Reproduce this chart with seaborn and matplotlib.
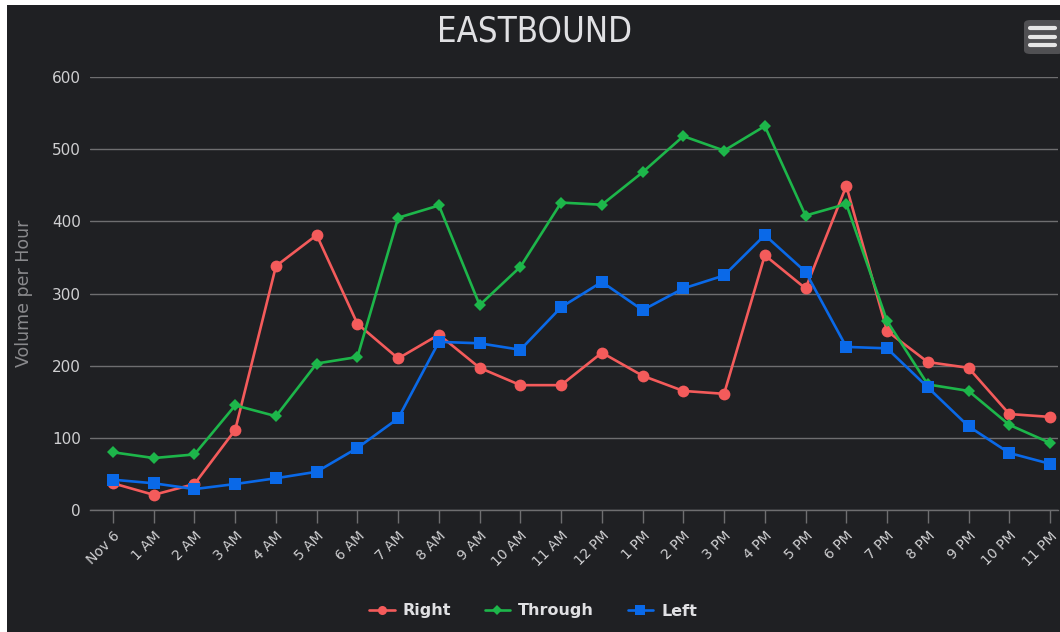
import numpy as np
import pandas as pd
import matplotlib
matplotlib.use("Agg")
import matplotlib.pyplot as plt
import seaborn as sns
from matplotlib import font_manager
from matplotlib.patches import Rectangle, FancyBboxPatch
from matplotlib.lines import Line2D

# data
hours = ["Nov 6", "1 AM", "2 AM", "3 AM", "4 AM", "5 AM", "6 AM", "7 AM", "8 AM", "9 AM",
         "10 AM", "11 AM", "12 PM", "1 PM", "2 PM", "3 PM", "4 PM", "5 PM", "6 PM", "7 PM",
         "8 PM", "9 PM", "10 PM", "11 PM"]
right = [37, 21, 36, 111, 338, 381, 258, 210, 243, 197, 173, 173,
         218, 186, 165, 161, 353, 307, 449, 248, 205, 197, 133, 129]
through = [80, 72, 77, 145, 130, 203, 212, 405, 422, 284, 337, 426,
           423, 468, 518, 498, 532, 408, 424, 262, 174, 165, 118, 93]
left = [42, 37, 29, 36, 44, 53, 86, 127, 233, 231, 222, 281,
        316, 277, 307, 325, 381, 330, 226, 224, 170, 116, 79, 64]

series_names = ["Right", "Through", "Left"]
series_colors = ["#f45b5b", "#1db64a", "#0a69e8"]
series_markers = ["o", "D", "s"]
marker_sizes = [8.5, 6.5, 8.5]
legend_sizes = [6.5, 5, 6.5]

BG = "#1f2023"
GRID = "#6e6e70"
TEXT = "#e0e0e3"

sns.set_theme(style="dark")
plt.rcParams["font.family"] = ["DejaVu Sans"]

W, H = 1060, 632
fig = plt.figure(figsize=(W / 100, H / 100), dpi=100, facecolor=BG)
# thin white border on left and top
fig.patches.append(Rectangle((0, 0), 7 / W, 1, transform=fig.transFigure,
                             facecolor="white", edgecolor="none", zorder=-5))
fig.patches.append(Rectangle((0, 1 - 5 / H), 1, 5 / H, transform=fig.transFigure,
                             facecolor="white", edgecolor="none", zorder=-5))

ax = fig.add_axes([90 / W, 1 - 510 / H, (1058 - 90) / W, (510 - 77) / H])
ax.set_facecolor(BG)

pos = np.arange(len(hours))
df = pd.DataFrame({"pos": pos, "Right": right, "Through": through, "Left": left})

for name, col, mk, ms in zip(series_names, series_colors, series_markers, marker_sizes):
    sns.lineplot(data=df, x="pos", y=name, ax=ax, color=col, marker=mk, markersize=ms,
                 markeredgewidth=0, linewidth=1.9, label=name, legend=False)

ax.set_ylim(0, 600)
ax.set_xlim(-(113 - 90) / 40.74, 23 + (1058 - 1050) / 40.74)
ax.set_yticks(range(0, 601, 100))
ax.set_xticks(pos)
ax.set_xticklabels(hours, rotation=45, ha="right", rotation_mode="anchor")
ax.grid(axis="y", color=GRID, linewidth=1.0)
ax.grid(axis="x", visible=False)
for side in ["top", "right", "left"]:
    ax.spines[side].set_visible(False)
ax.spines["bottom"].set_color(GRID)
ax.spines["bottom"].set_linewidth(1.0)
ax.tick_params(axis="x", colors="#cfcfd1", length=9.5, width=1, direction="out",
               labelsize=10, pad=4, bottom=True)
ax.tick_params(axis="x", color=GRID)
ax.tick_params(axis="y", colors="#cfcfd1", length=0, labelsize=11, pad=6.5)
ax.set_xlabel("")
ax.set_ylabel("Volume per Hour", color="#8a8a8d", fontsize=12.5)
ax.yaxis.set_label_coords((33 - 90) / 968, 0.5)

# condensed face for the title if one is installed
title_kw = {"family": "DejaVu Sans", "stretch": "condensed"}
try:
    font_manager.findfont("Liberation Sans Narrow", fallback_to_default=False)
    title_kw = {"family": "Liberation Sans Narrow"}
except Exception:
    pass
title = fig.text(535 / W, 1 - 32 / H, "EASTBOUND", ha="center", va="center", color=TEXT,
                 fontsize=22, **title_kw)
fig.canvas.draw()
tw = title.get_window_extent().width
title.set_fontsize(22 * 195 / tw)

handles = [Line2D([0], [0], color=c, marker=m, markersize=s, markeredgewidth=0, linewidth=1.9)
           for c, m, s in zip(series_colors, series_markers, legend_sizes)]
leg = fig.legend(handles, series_names, loc="center", bbox_to_anchor=(533 / W, 1 - 611 / H),
                 ncol=3, frameon=False, handlelength=1.6, handletextpad=0.5,
                 columnspacing=2.1, prop={"weight": "bold", "size": 11.5})
for t in leg.get_texts():
    t.set_color(TEXT)

# menu button, top right
fig.patches.append(FancyBboxPatch((1024 / W, 1 - 54 / H), 40 / W, 34 / H,
                                  boxstyle="round,pad=0,rounding_size=0.006",
                                  transform=fig.transFigure, facecolor="#505053",
                                  edgecolor="none", zorder=1))
for yy in (28, 37, 45):
    fig.lines.append(Line2D([1030 / W, 1055 / W], [1 - yy / H, 1 - yy / H],
                            transform=fig.transFigure, color="#e6e6e6", linewidth=3,
                            solid_capstyle="round", zorder=2))

fig.savefig("out.png", dpi=100, facecolor=fig.get_facecolor())
